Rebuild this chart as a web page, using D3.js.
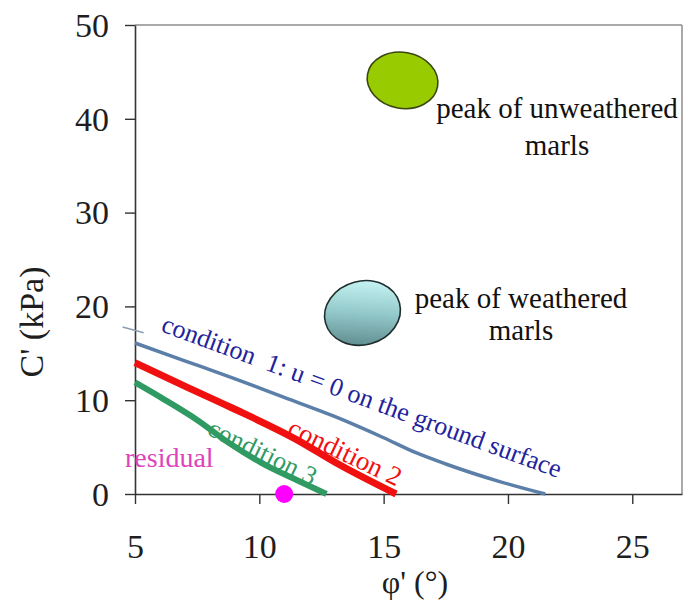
<!DOCTYPE html>
<html>
<head>
<meta charset="utf-8">
<script src="https://cdn.jsdelivr.net/npm/d3@7"></script>
<style>
  html, body { margin: 0; padding: 0; background: #fff; }
  svg { display: block; }
</style>
</head>
<body>
<svg id="chart" width="688" height="603"></svg>
<script>
// Axis ticks
const xTicks = [5, 10, 15, 20, 25];
const yTicks = [0, 10, 20, 30, 40, 50];

// Limit strength lines: [phi', c']
const condition1 = [[5, 16.1], [7, 14.2], [9, 12.3], [11, 10.3], [13, 8.3], [15, 6.0], [16.3, 4.4], [17.5, 3.2], [19.7, 1.3], [21.5, 0]];
const condition2 = [[5, 14.0], [7, 11.5], [8.8, 9.3], [11.5, 5.8], [13.1, 3.3], [15.5, 0]];
const condition3 = [[5, 11.9], [6.1, 10.2], [7.5, 7.9], [8.8, 5.4], [10.1, 3.3], [11.5, 1.5], [12.7, 0]];
const condition1Stub = [[4.5, 17.8], [5.35, 17.2]];

// Residual strength point
const residual = [[11, 0]];

// Peak strength regions: centre phi', centre c', half-width (phi'), half-height (c')
const unweathered = { phi: 15.76, c: 44.1, dPhi: 1.43, dC: 2.99, tilt: 10 };
const weathered = { phi: 14.15, c: 19.3, dPhi: 1.54, dC: 3.4, tilt: -15 };

const W = 688, H = 603;
const margin = { top: 25, right: 6, bottom: 109, left: 135 };
const svg = d3.select("#chart");
const serif = "'Liberation Serif', 'Times New Roman', serif";

const x = d3.scaleLinear().domain([5, 27]).range([margin.left, W - margin.right]);
const y = d3.scaleLinear().domain([0, 50]).range([H - margin.bottom, margin.top]);

// Gradient for the weathered region
const defs = svg.append("defs");
const grad = defs.append("linearGradient").attr("id", "wGrad")
  .attr("x1", "0.7").attr("y1", "0").attr("x2", "0.3").attr("y2", "1");
grad.append("stop").attr("offset", "0").attr("stop-color", "#c9f6f6");
grad.append("stop").attr("offset", "0.5").attr("stop-color", "#93c9ca");
grad.append("stop").attr("offset", "1").attr("stop-color", "#5e8a8d");

// Frame: top and right borders in light grey
svg.append("line")
  .attr("x1", x(5)).attr("x2", x(27)).attr("y1", y(50)).attr("y2", y(50))
  .attr("stroke", "#8c8c8c").attr("stroke-width", 1.5);
svg.append("line")
  .attr("x1", x(27)).attr("x2", x(27)).attr("y1", y(50)).attr("y2", y(0))
  .attr("stroke", "#8c8c8c").attr("stroke-width", 1.5);

// Axes
const xAxis = d3.axisBottom(x).tickValues(xTicks).tickSizeInner(10).tickSizeOuter(0).tickPadding(30);
const yAxis = d3.axisLeft(y).tickValues(yTicks).tickSizeInner(10).tickSizeOuter(0).tickPadding(16);

const gx = svg.append("g").attr("transform", `translate(0,${y(0)})`).call(xAxis);
const gy = svg.append("g").attr("transform", `translate(${x(5)},0)`).call(yAxis);

[gx, gy].forEach(g => {
  g.select(".domain").attr("stroke", "#333").attr("stroke-width", 1.6);
  g.selectAll(".tick line").attr("stroke", "#333").attr("stroke-width", 1.4);
  g.selectAll(".tick text")
    .attr("font-family", serif).attr("font-size", 34).attr("fill", "#1e1e1e");
});
gx.selectAll(".tick text").attr("dy", null).attr("y", 64);
gy.selectAll(".tick text").attr("dy", "0.33em");

// Axis titles
svg.append("text")
  .attr("transform", `translate(43,322) rotate(-90)`)
  .attr("text-anchor", "middle")
  .attr("font-family", serif).attr("font-size", 34).attr("fill", "#1e1e1e")
  .text("C' (kPa)");
svg.append("text")
  .attr("x", 415).attr("y", 593)
  .attr("text-anchor", "middle")
  .attr("font-family", serif).attr("font-size", 32).attr("fill", "#1e1e1e")
  .text("φ' (°)");

// Peak regions
function region(r, fill, stroke) {
  const cx = x(r.phi), cy = y(r.c);
  svg.append("ellipse")
    .attr("cx", cx).attr("cy", cy)
    .attr("rx", x(r.phi + r.dPhi) - cx)
    .attr("ry", cy - y(r.c + r.dC))
    .attr("transform", `rotate(${r.tilt},${cx},${cy})`)
    .attr("fill", fill).attr("stroke", stroke).attr("stroke-width", 1.6);
}
region(unweathered, "#99cc00", "#3a4512");
region(weathered, "url(#wGrad)", "#1f2d2d");

// Region labels
function label(lines, cx, baselines) {
  lines.forEach((t, i) => {
    svg.append("text")
      .attr("x", cx).attr("y", baselines[i])
      .attr("text-anchor", "middle")
      .attr("font-family", serif).attr("font-size", 29).attr("fill", "#111")
      .text(t);
  });
}
label(["peak of unweathered", "marls"], 557, [118, 155]);
label(["peak of weathered", "marls"], 521, [308, 340]);

// Strength lines
const line = d3.line().x(d => x(d[0])).y(d => y(d[1])).curve(d3.curveMonotoneX);

svg.append("path").datum(condition1Stub).attr("d", line)
  .attr("fill", "none").attr("stroke", "#8b9db3").attr("stroke-width", 1.5);
svg.append("path").datum(condition1).attr("d", line)
  .attr("fill", "none").attr("stroke", "#5b7fa8").attr("stroke-width", 3.5);
svg.append("path").datum(condition2).attr("d", line)
  .attr("fill", "none").attr("stroke", "#f01010").attr("stroke-width", 7);
svg.append("path").datum(condition3).attr("d", line)
  .attr("fill", "none").attr("stroke", "#2f9a62").attr("stroke-width", 6);

// Line labels
function slanted(t, px, py, angle, color, size) {
  svg.append("text")
    .attr("transform", `translate(${px},${py}) rotate(${angle})`)
    .attr("font-family", serif).attr("font-size", size).attr("fill", color)
    .attr("xml:space", "preserve")
    .text(t);
}
slanted("condition  1: u = 0 on the ground surface", 160, 331, 20.3, "#22229c", 26);
slanted("condition 2", 286, 434, 25.5, "#f01010", 27);
slanted("condition 3", 206, 434, 26, "#2f9a62", 26);

// Residual point
svg.append("text")
  .attr("x", 125).attr("y", 467)
  .attr("font-family", serif).attr("font-size", 28).attr("fill", "#dd44bb")
  .text("residual");
svg.selectAll("circle.res").data(residual).join("circle")
  .attr("class", "res")
  .attr("cx", d => x(d[0])).attr("cy", d => y(d[1])).attr("r", 9)
  .attr("fill", "#ff00ff");
</script>
</body>
</html>
